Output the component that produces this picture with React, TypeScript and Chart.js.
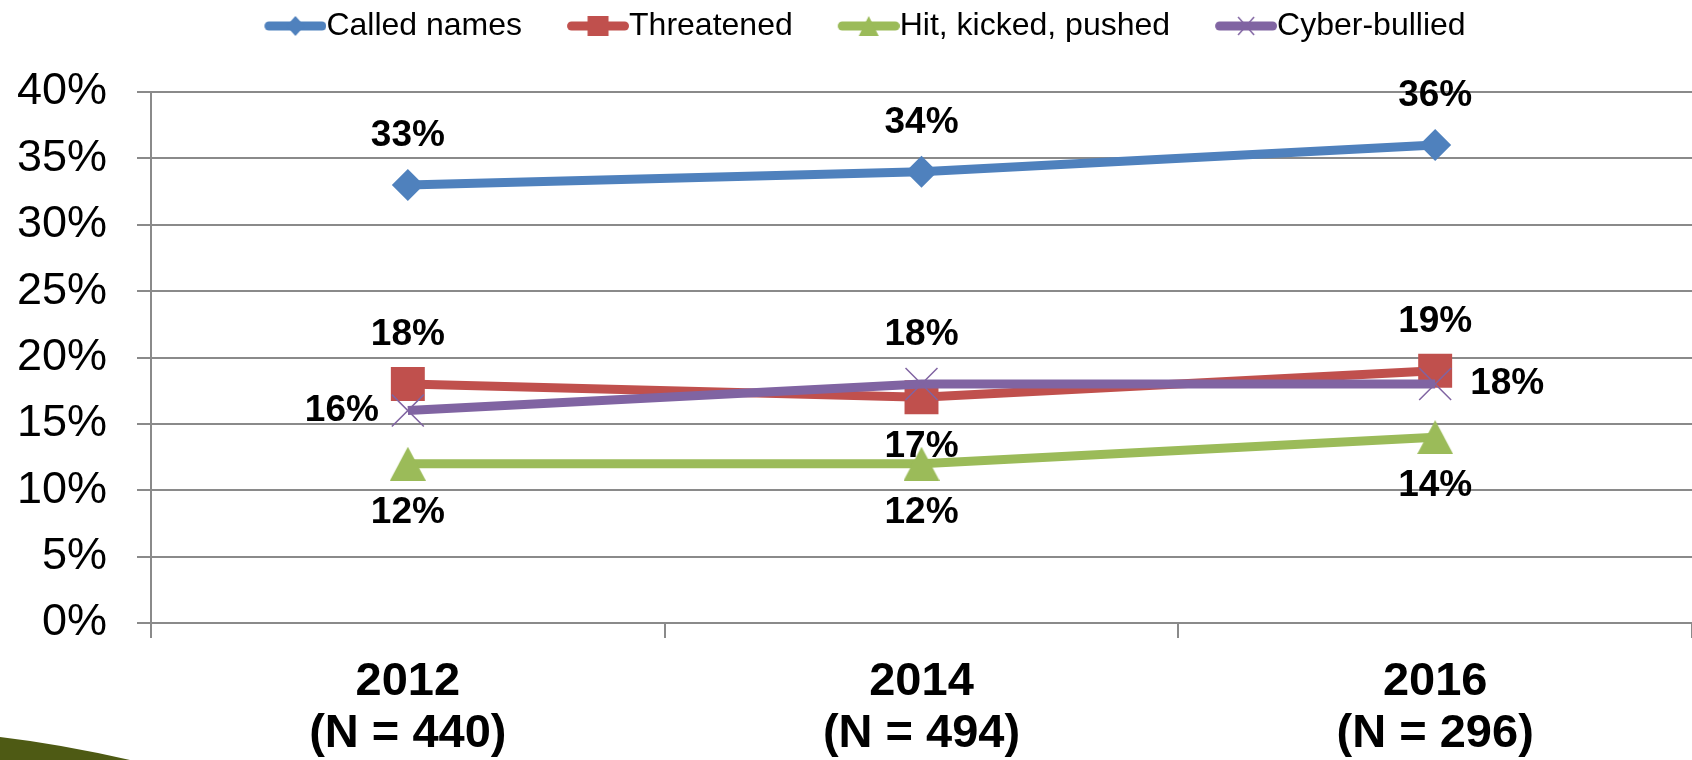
import React, { useEffect, useRef } from 'react';
import { Chart, registerables } from 'chart.js';

Chart.register(...registerables);

// ---- data ----
const categories: string[][] = [
  ['2012', '(N = 440)'],
  ['2014', '(N = 494)'],
  ['2016', '(N = 296)'],
];
const seriesNames = ['Called names', 'Threatened', 'Hit, kicked, pushed', 'Cyber-bullied'];
const calledNames = [33, 34, 36];
const threatened = [18, 17, 19];
const hitKickedPushed = [12, 12, 14];
const cyberBullied = [16, 18, 18];
const yMin = 0;
const yMax = 40;
const yStep = 5;

// ---- styles ----
const FONT = '"Liberation Sans", Arial, Helvetica, sans-serif';
const BLUE = '#4F81BD';
const RED = '#C0504D';
const GREEN = '#9BBB59';
const PURPLE = '#8064A2';
const GRID = '#8A8A8A';
const LEGEND_FONT = 32;

function makeCanvas(w: number, h: number) {
  const c = document.createElement('canvas');
  c.width = w;
  c.height = h;
  return c;
}

function triangleImage(color: string) {
  const c = makeCanvas(36, 34);
  const ctx = c.getContext('2d')!;
  ctx.fillStyle = color;
  ctx.beginPath();
  ctx.moveTo(18, 0);
  ctx.lineTo(36, 34);
  ctx.lineTo(0, 34);
  ctx.closePath();
  ctx.fill();
  return c;
}

function legendImage(color: string, marker: string) {
  const W = 81 + LEGEND_FONT;
  const H = LEGEND_FONT;
  const c = makeCanvas(W, H);
  const ctx = c.getContext('2d')!;
  const x0 = W - 62;
  const cy = H / 2;
  ctx.strokeStyle = color;
  ctx.lineWidth = 9;
  ctx.lineCap = 'round';
  ctx.beginPath();
  ctx.moveTo(x0 + 4.5, cy);
  ctx.lineTo(W - 4.5, cy);
  ctx.stroke();
  const cx = x0 + 31;
  ctx.fillStyle = color;
  ctx.beginPath();
  if (marker === 'diamond') {
    ctx.moveTo(cx, cy - 10);
    ctx.lineTo(cx + 9, cy);
    ctx.lineTo(cx, cy + 10);
    ctx.lineTo(cx - 9, cy);
    ctx.closePath();
    ctx.fill();
  } else if (marker === 'square') {
    ctx.rect(cx - 10.5, cy - 10, 21, 20);
    ctx.fill();
  } else if (marker === 'triangle') {
    ctx.moveTo(cx, cy - 10);
    ctx.lineTo(cx + 10, cy + 10);
    ctx.lineTo(cx - 10, cy + 10);
    ctx.closePath();
    ctx.fill();
  } else {
    ctx.lineWidth = 1.5;
    ctx.lineCap = 'butt';
    ctx.moveTo(cx - 8, cy - 9);
    ctx.lineTo(cx + 8, cy + 9);
    ctx.moveTo(cx + 8, cy - 9);
    ctx.lineTo(cx - 8, cy + 9);
    ctx.stroke();
  }
  return c;
}

const valueLabels = {
  id: 'valueLabels',
  afterDatasetsDraw(chart: any) {
    const ctx = chart.ctx;
    ctx.save();
    ctx.font = `bold 37px ${FONT}`;
    ctx.fillStyle = '#000';
    ctx.textAlign = 'center';
    ctx.textBaseline = 'middle';
    chart.data.datasets.forEach((ds: any, di: number) => {
      const meta = chart.getDatasetMeta(di);
      meta.data.forEach((pt: any, i: number) => {
        const pos = ds.labelPos[i];
        let x = pt.x;
        let y = pt.y;
        if (pos === 'top') y -= 49;
        else if (pos === 'bottom') y += 49;
        else if (pos === 'left') x -= 66;
        else x += 72;
        ctx.fillText(ds.data[i] + '%', x, y);
      });
    });
    ctx.restore();
  },
};

const legendSpacer = {
  id: 'legendSpacer',
  beforeLayout(chart: any) {
    const lg = chart.legend;
    if (lg && !lg._spacerPatched) {
      const orig = lg.fit;
      lg.fit = function () {
        orig.call(this);
        this.height += 40;
      };
      lg._spacerPatched = true;
    }
  },
};

const decoration = {
  id: 'decoration',
  beforeDraw(chart: any) {
    const ctx = chart.ctx;
    ctx.save();
    ctx.fillStyle = '#4E5A14';
    ctx.beginPath();
    ctx.moveTo(0, 737);
    ctx.quadraticCurveTo(60, 744, 130, 760);
    ctx.lineTo(0, 760);
    ctx.closePath();
    ctx.fill();
    ctx.restore();
  },
};

export default function App() {
  const ref = useRef<HTMLCanvasElement | null>(null);

  useEffect(() => {
    if (!ref.current) return;
    const markers = ['diamond', 'square', 'triangle', 'cross'];
    const colors = [BLUE, RED, GREEN, PURPLE];
    const chart = new Chart(ref.current, {
      type: 'line',
      data: {
        labels: categories,
        datasets: [
          {
            label: seriesNames[0],
            data: calledNames,
            borderColor: BLUE,
            backgroundColor: BLUE,
            borderWidth: 9,
            pointStyle: 'rectRot',
            pointRadius: 16,
            pointBorderWidth: 0,
            order: 3,
            labelPos: ['top', 'top', 'top'],
          } as any,
          {
            label: seriesNames[1],
            data: threatened,
            borderColor: RED,
            backgroundColor: RED,
            borderWidth: 9,
            pointStyle: 'rect',
            pointRadius: 24,
            pointBorderWidth: 0,
            order: 2,
            labelPos: ['top', 'bottom', 'top'],
          } as any,
          {
            label: seriesNames[2],
            data: hitKickedPushed,
            borderColor: GREEN,
            backgroundColor: GREEN,
            borderWidth: 9,
            pointStyle: triangleImage(GREEN),
            pointRadius: 18,
            pointBorderWidth: 0,
            order: 1,
            labelPos: ['bottom', 'bottom', 'bottom'],
          } as any,
          {
            label: seriesNames[3],
            data: cyberBullied,
            borderColor: PURPLE,
            backgroundColor: PURPLE,
            borderWidth: 9,
            pointStyle: 'crossRot',
            pointRadius: 22.6,
            pointBorderWidth: 1.5,
            pointBorderColor: PURPLE,
            order: 0,
            labelPos: ['left', 'top', 'right'],
          } as any,
        ],
      },
      options: {
        responsive: false,
        animation: false,
        events: [],
        layout: { autoPadding: false, padding: { left: 0, top: 0, bottom: 0, right: -3 } },
        plugins: {
          tooltip: { enabled: false },
          legend: {
            display: true,
            position: 'top',
            labels: {
              usePointStyle: true,
              pointStyleWidth: 81,
              padding: 10,
              color: '#000',
              font: { size: LEGEND_FONT, family: FONT },
              generateLabels: (ch: any) =>
                ch.data.datasets.map((ds: any, i: number) => ({
                  text: ds.label,
                  fillStyle: colors[i],
                  strokeStyle: colors[i],
                  lineWidth: 0,
                  hidden: false,
                  datasetIndex: i,
                  pointStyle: legendImage(colors[i], markers[i]),
                  fontColor: '#000',
                })),
            },
          },
        },
        scales: {
          x: {
            type: 'category',
            offset: true,
            afterFit: (s: any) => {
              s.height = 137;
              s.paddingLeft = 0;
              s.paddingRight = 0;
            },
            grid: {
              display: true,
              drawOnChartArea: false,
              drawTicks: true,
              tickLength: 15,
              color: GRID,
              lineWidth: 2,
              offset: true,
            },
            border: { display: true, color: GRID, width: 2 },
            ticks: {
              color: '#000',
              padding: 18,
              maxRotation: 0,
              autoSkip: false,
              font: { size: 47, weight: 'bold', family: FONT, lineHeight: 1.1 },
            },
          },
          y: {
            min: yMin,
            max: yMax,
            afterFit: (s: any) => {
              s.width = 151;
            },
            grid: {
              color: GRID,
              lineWidth: 2,
              tickLength: 14,
              drawTicks: true,
            },
            border: { display: true, color: GRID, width: 2 },
            ticks: {
              stepSize: yStep,
              color: '#000',
              padding: 30,
              font: { size: 45, family: FONT },
              callback: (v: any) => v + '%',
            },
          },
        },
      } as any,
      plugins: [legendSpacer, valueLabels, decoration],
    });
    return () => chart.destroy();
  }, []);

  return (
    <div style={{ position: 'fixed', left: 0, top: 0, width: 1692, height: 760, background: '#fff' }}>
      <canvas ref={ref} width={1692} height={760} style={{ display: 'block' }} />
    </div>
  );
}
